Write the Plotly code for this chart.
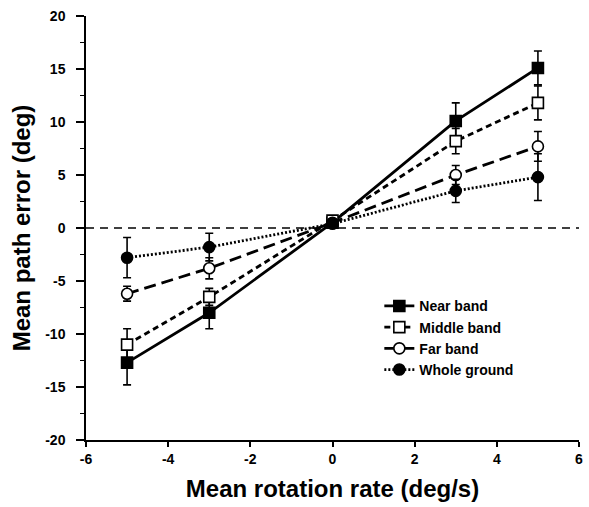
import plotly.graph_objects as go

x_vals = [-5, -3, 0, 3, 5]
near = [-12.7, -8.0, 0.5, 10.1, 15.1]
near_err = [2.1, 1.5, 0.2, 1.7, 1.6]
middle = [-11.0, -6.5, 0.7, 8.2, 11.8]
middle_err = [1.5, 0.8, 0.2, 1.2, 1.6]
far = [-6.2, -3.8, 0.5, 5.0, 7.7]
far_err = [0.7, 1.0, 0.2, 0.9, 1.4]
whole = [-2.8, -1.8, 0.4, 3.5, 4.8]
whole_err = [1.9, 1.3, 0.2, 1.1, 2.2]

x_ticks = [-6, -4, -2, 0, 2, 4, 6]
x_ticktext = ["-6", "-4", "-2", "0", "2", "4", "6"]
y_ticks = [-20, -15, -10, -5, 0, 5, 10, 15, 20]
y_ticktext = ["-20", "-15", "-10", "-5", "0", "5", "10", "15", "20"]
y_minor = [-17.5, -12.5, -7.5, -2.5, 2.5, 7.5, 12.5, 17.5]

names = ["Near band", "Middle band", "Far band", "Whole ground"]
series = [near, middle, far, whole]
errs = [near_err, middle_err, far_err, whole_err]
dashes = ["solid", "6px,4px", "12px,6px", "2px,2px"]
symbols = ["square", "square", "circle", "circle"]
fills = ["black", "white", "white", "black"]

fig = go.Figure()

fig.add_trace(go.Scatter(x=[-6, 6], y=[0, 0], mode="lines",
                         line=dict(color="black", width=1.5, dash="8px,6px"),
                         showlegend=False, hoverinfo="skip"))

for name, y, e, d, s, f in zip(names, series, errs, dashes, symbols, fills):
    fig.add_trace(go.Scatter(
        x=x_vals, y=y, name=name, mode="lines+markers",
        line=dict(color="black", width=2.8, dash=d),
        marker=dict(symbol=s, size=11, color=f,
                    line=dict(color="black", width=1.6)),
        error_y=dict(type="data", array=e, visible=True, color="black",
                     thickness=1.6, width=4),
    ))

font = "Liberation Sans, Arial, sans-serif"
fig.update_layout(
    width=589, height=507,
    margin=dict(l=86, r=6, t=16, b=67),
    plot_bgcolor="white", paper_bgcolor="white",
    font=dict(family=font, color="black"),
    showlegend=True,
    legend=dict(x=0.595, y=0.353, xanchor="left", yanchor="top",
                bgcolor="rgba(0,0,0,0)", font=dict(size=14, family=font, weight="bold"),
                tracegroupgap=0),
    xaxis=dict(range=[-6, 6], tickvals=x_ticks, ticktext=x_ticktext,
               showgrid=False, zeroline=False,
               showline=True, linecolor="black", linewidth=1.5,
               ticks="outside", ticklen=5, tickwidth=1.5, tickcolor="black",
               tickfont=dict(size=14, weight="bold"),
               title=dict(text="Mean rotation rate (deg/s)", font=dict(size=24, weight="bold"), standoff=15)),
    yaxis=dict(range=[-20, 20], tickvals=y_ticks, ticktext=y_ticktext,
               showgrid=False, zeroline=False,
               showline=True, linecolor="black", linewidth=1.5,
               ticks="outside", ticklen=8, tickwidth=1.5, tickcolor="black",
               ticklabelstandoff=8,
               minor=dict(tickvals=y_minor,
                          ticks="outside", ticklen=4, tickwidth=1, tickcolor="black"),
               tickfont=dict(size=14, weight="bold"),
               title=dict(text="Mean path error (deg)", font=dict(size=24, weight="bold"), standoff=8)),
)

fig.write_html("out.html")
